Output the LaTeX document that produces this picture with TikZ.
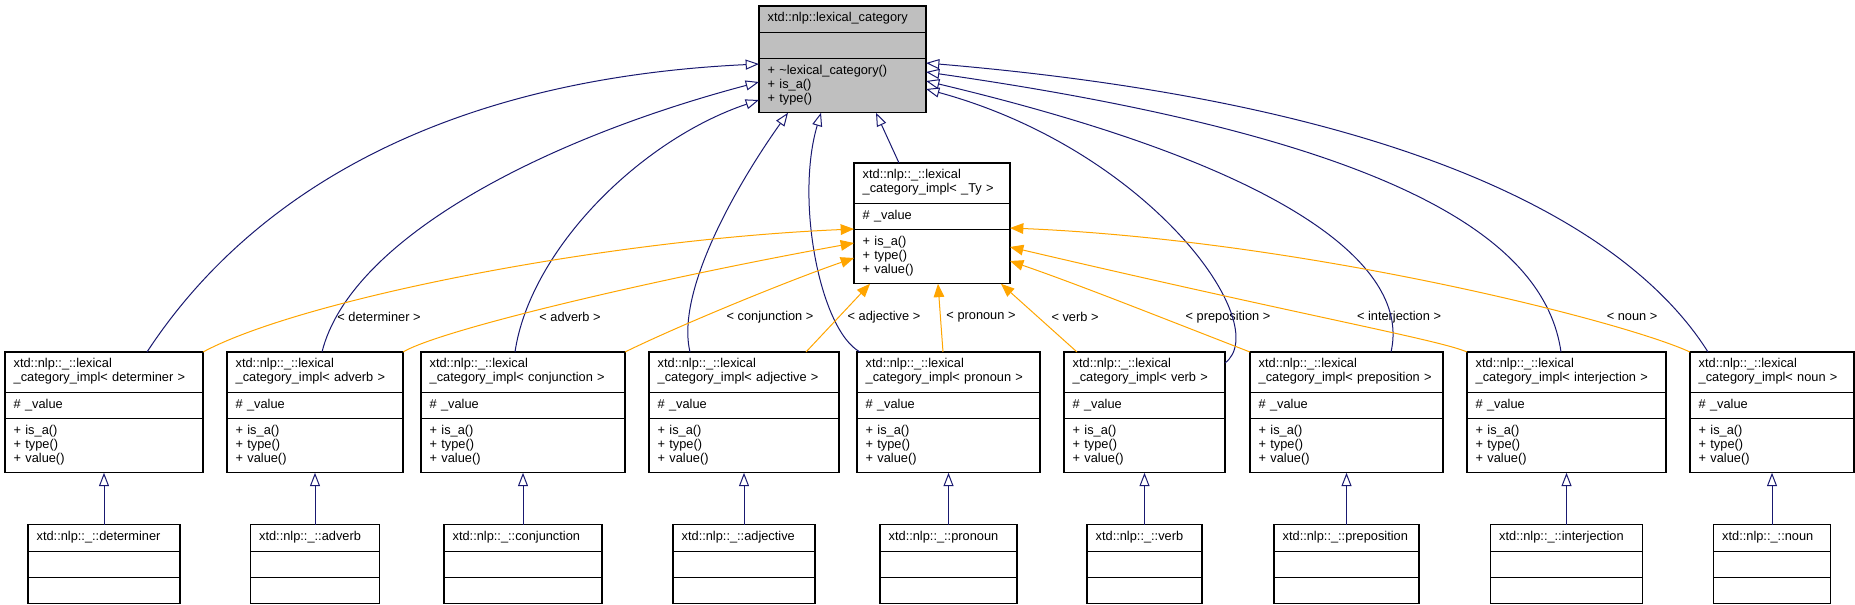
\documentclass[tikz,border=0pt]{standalone}
\usepackage{fontspec}
\setmainfont{Liberation Sans}
\usepackage{xcolor}
\usepackage{tikz}
\usetikzlibrary{positioning,calc,shapes.multipart,arrows.meta}
\definecolor{edgenavy}{RGB}{25,25,112}
\definecolor{edgeorange}{RGB}{255,165,0}
\definecolor{boxgray}{RGB}{191,191,191}

\begin{document}
\begin{tikzpicture}[x=0.75pt,y=-0.75pt,
		cls/.style={
			rectangle split, rectangle split parts=3, draw=black, line width=0.8pt,
			font={\fontsize{9.6}{10.5}\selectfont}, align=left,
			inner xsep=6.5pt, inner ysep=4.2pt, outer sep=0pt, anchor=north west, fill=white
		},
		inh/.style={
			draw=edgenavy, line width=0.75pt, -{Triangle[open,length=10pt,width=7.5pt]}
		},
		tmpl/.style={
			draw=edgeorange, line width=0.75pt, -{Triangle[length=10pt,width=8pt]}
		},
		lbl/.style={font={\fontsize{9.6}{10.5}\selectfont}, inner sep=0pt}
		]
		\useasboundingbox (0,0) rectangle (1855,605);
		
		% base class and template
		\node[cls, fill=boxgray, text width=112.25pt] (lexcat) at (759,6)
			{\centering\strut xtd::nlp::lexical\_category
			\nodepart{two}\strut
			\nodepart{three}\strut + \textasciitilde lexical\_category()\\\strut + is\_a()\\\strut + type()};
		\node[cls, text width=104pt] (ty) at (854,163)
			{\strut xtd::nlp::\_::lexical\\\strut\_category\_impl< \_Ty >
			\nodepart{two}\strut\# \_value
			\nodepart{three}\strut + is\_a()\\\strut + type()\\\strut + value()};
		
		% instances and leaf classes
		\foreach \nm/\xl/\xr/\lw/\cat in {det/5/203/152/determiner, adv/227/403/129/adverb,
			conj/421/625/158/conjunction, adj/649/839/142/adjective, pron/857/1040/137/pronoun,
			verb/1064/1225/115/verb, prep/1250/1443/145/preposition,
			interj/1467/1666/152/interjection, noun/1690/1854/117/noun} {
			\pgfmathsetmacro{\tw}{(\xr-\xl)*0.75-13}
			\pgfmathsetmacro{\lt}{\lw*0.75-13}
			\node[cls, text width=\tw pt] (\nm) at (\xl,352)
				{\strut xtd::nlp::\_::lexical\\\strut\_category\_impl< \cat\ >
				\nodepart{two}\strut\# \_value
				\nodepart{three}\strut + is\_a()\\\strut + type()\\\strut + value()};
			\node[cls, text width=\lt pt, below=39pt of \nm] (\nm-leaf)
				{\centering\strut xtd::nlp::\_::\cat
				\nodepart{two}\strut
				\nodepart{three}\strut};
			\draw[inh] (\nm-leaf) -- (\nm);
		}
		
		% edge labels
		\foreach \nm/\xc/\cat in {det/379/determiner, adv/570/adverb, conj/770/conjunction,
			adj/884/adjective, pron/981/pronoun, verb/1075/verb, prep/1228/preposition,
			interj/1399/interjection, noun/1632/noun} {
			\node[lbl] (\nm-lbl) at (\xc,317) {< \cat\ >};
		}
		
		% inheritance from lexical_category
		\draw[inh] (det.north -| 147,0) .. controls (240,210) and (420,80) .. (lexcat.west |- 0,64);
		\draw[inh] (adv.north -| 322,0) .. controls (350,240) and (540,140) .. (lexcat.west |- 0,82);
		\draw[inh] (conj.north -| 515,0) .. controls (530,250) and (640,140) .. (lexcat.west |- 0,100);
		\draw[inh] (adj.north -| 690,0) .. controls (675,290) and (740,180) .. (lexcat.south -| 788,0);
		\draw[inh] (pron.north -| 860,0) .. controls (820,330) and (795,200) .. (lexcat.south -| 821,0);
		\draw[inh] (ty.north -| 899,0) -- (lexcat.south -| 876,0);
		\draw[inh] (verb.east |- 0,363) .. controls (1275,325) and (1150,150) .. (lexcat.east |- 0,89);
		\draw[inh] (prep.north -| 1391,0) .. controls (1410,270) and (1300,170) .. (lexcat.east |- 0,81);
		\draw[inh] (interj.north -| 1561,0) .. controls (1545,240) and (1400,140) .. (lexcat.east |- 0,72);
		\draw[inh] (noun.north -| 1708,0) .. controls (1650,260) and (1480,110) .. (lexcat.east |- 0,63);
		
		% template instantiation
		\draw[tmpl] (det.north east) .. controls (300,300) and (600,240) .. (ty.west |- 0,229);
		\draw[tmpl] (adv.north east) .. controls (440,330) and (650,280) .. (ty.west |- 0,243);
		\draw[tmpl] (conj.north east) .. controls (680,325) and (790,280) .. (ty.west |- 0,258);
		\draw[tmpl] (adj.north -| 806,0) -- (ty.south -| 870,0);
		\draw[tmpl] (pron.north -| 943,0) -- (ty.south -| 938,0);
		\draw[tmpl] (verb.north -| 1077,0) -- (ty.south -| 1001,0);
		\draw[tmpl] (prep.north west) .. controls (1180,325) and (1080,285) .. (ty.east |- 0,261);
		\draw[tmpl] (interj.north west) .. controls (1440,340) and (1300,315) .. (ty.east |- 0,247);
		\draw[tmpl] (noun.north west) .. controls (1620,320) and (1300,240) .. (ty.east |- 0,228);
	\end{tikzpicture}
\end{document}
